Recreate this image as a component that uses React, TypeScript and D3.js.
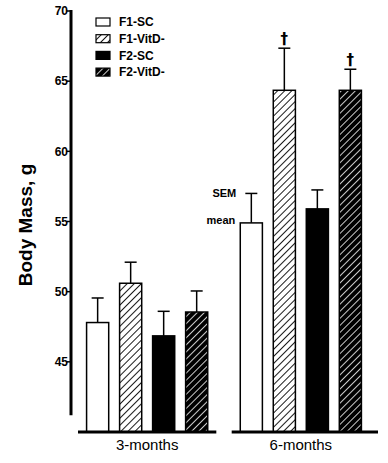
import React, { useEffect, useRef } from 'react'
import * as d3 from 'd3'

const groups = ['3-months', '6-months']
const series = ['F1-SC', 'F1-VitD-', 'F2-SC', 'F2-VitD-']
// mean values per group, in series order
const means = [
  [47.8, 50.6, 46.85, 48.55],
  [54.9, 64.35, 55.9, 64.35],
]
const sems = [
  [1.75, 1.5, 1.75, 1.5],
  [2.1, 3.0, 1.35, 1.5],
]
const dagger = [
  [false, false, false, false],
  [false, true, false, true],
]
const yTicks = [45, 50, 55, 60, 65, 70]

const fills: Record<string, string> = {
  'F1-SC': '#fff',
  'F1-VitD-': 'url(#hatchLight)',
  'F2-SC': '#000',
  'F2-VitD-': 'url(#hatchDark)',
}

export default function App() {
  const ref = useRef<SVGSVGElement>(null)

  useEffect(() => {
    const svg = d3.select(ref.current)
    svg.selectAll('*').remove()
    const font = 'Liberation Sans, Arial, sans-serif'

    const defs = svg.append('defs')
    const light = defs.append('pattern').attr('id', 'hatchLight')
      .attr('patternUnits', 'userSpaceOnUse').attr('width', 5).attr('height', 5)
      .attr('patternTransform', 'rotate(45)')
    light.append('rect').attr('width', 5).attr('height', 5).attr('fill', '#fff')
    light.append('line').attr('x1', 0).attr('y1', 0).attr('x2', 0).attr('y2', 5)
      .attr('stroke', '#000').attr('stroke-width', 1.8)
    const dark = defs.append('pattern').attr('id', 'hatchDark')
      .attr('patternUnits', 'userSpaceOnUse').attr('width', 5).attr('height', 5)
      .attr('patternTransform', 'rotate(45)')
    dark.append('rect').attr('width', 5).attr('height', 5).attr('fill', '#000')
    dark.append('line').attr('x1', 0).attr('y1', 0).attr('x2', 0).attr('y2', 5)
      .attr('stroke', '#fff').attr('stroke-width', 1.6)

    const y = d3.scaleLinear().domain([40, 70]).range([432, 11])
    const x0 = d3.scaleBand().domain(groups).range([78, 370]).paddingInner(0.1)
    const x1 = d3.scaleBand().domain(series).range([0, x0.bandwidth()])
      .paddingInner(0.33).paddingOuter(0.26)

    // y axis
    svg.append('line').attr('x1', 71).attr('x2', 71)
      .attr('y1', y(70) - 1).attr('y2', y(41.2))
      .attr('stroke', '#000').attr('stroke-width', 3)
    const yt = svg.append('g')
    yt.selectAll('line').data(yTicks).enter().append('line')
      .attr('x1', 67).attr('x2', 71).attr('y1', d => y(d)).attr('y2', d => y(d))
      .attr('stroke', '#000').attr('stroke-width', 1.5)
    yt.selectAll('text').data(yTicks).enter().append('text')
      .attr('x', 68).attr('y', d => y(d)).attr('dy', '0.35em')
      .attr('text-anchor', 'end').attr('font-family', font).attr('font-weight', 'bold')
      .attr('font-size', 12).text(d => d)

    svg.append('text')
      .attr('transform', `translate(32,225) rotate(-90)`)
      .attr('text-anchor', 'middle').attr('font-family', font).attr('font-weight', 'bold')
      .attr('font-size', 19).text('Body Mass, g')

    // bars
    groups.forEach((g, gi) => {
      const gx = x0(g)!
      series.forEach((s, si) => {
        const bx = gx + x1(s)!
        const bw = x1.bandwidth()
        const m = means[gi][si]
        const top = y(m + sems[gi][si])
        svg.append('line').attr('x1', bx + bw / 2).attr('x2', bx + bw / 2)
          .attr('y1', y(m)).attr('y2', top).attr('stroke', '#000').attr('stroke-width', 1.5)
        svg.append('line').attr('x1', bx + bw / 2 - 6).attr('x2', bx + bw / 2 + 6)
          .attr('y1', top).attr('y2', top).attr('stroke', '#000').attr('stroke-width', 1.5)
        svg.append('rect').attr('x', bx).attr('y', y(m))
          .attr('width', bw).attr('height', y(40) - y(m))
          .attr('fill', fills[s]).attr('stroke', '#000').attr('stroke-width', 1.5)
        if (dagger[gi][si]) {
          svg.append('text').attr('x', bx + bw / 2).attr('y', top - 4)
            .attr('text-anchor', 'middle').attr('font-family', 'DejaVu Sans, sans-serif')
            .attr('font-weight', 'bold').attr('font-size', 15).text('†')
        }
        if (gi === 1 && si === 0) {
          svg.append('text').attr('x', bx - 4).attr('y', top).attr('dy', '0.35em')
            .attr('text-anchor', 'end').attr('font-family', font).attr('font-weight', 'bold')
            .attr('font-size', 11).text('SEM')
          svg.append('text').attr('x', bx - 5).attr('y', y(m) - 3).attr('dy', '0.35em')
            .attr('text-anchor', 'end').attr('font-family', font).attr('font-weight', 'bold')
            .attr('font-size', 11).text('mean')
        }
      })
      // x axis segment
      svg.append('line').attr('x1', gx).attr('x2', gx + x0.bandwidth() + (gi === 1 ? 8 : 0))
        .attr('y1', y(40)).attr('y2', y(40)).attr('stroke', '#000').attr('stroke-width', 3)
      svg.append('text').attr('x', gx + x0.bandwidth() / 2).attr('y', 450)
        .attr('text-anchor', 'middle').attr('font-family', font)
        .attr('font-size', 15).text(g)
    })

    // legend
    const lg = svg.append('g').attr('transform', 'translate(96,18)')
    series.forEach((s, i) => {
      lg.append('rect').attr('x', 0).attr('y', i * 16.7).attr('width', 14).attr('height', 8)
        .attr('fill', fills[s]).attr('stroke', '#000').attr('stroke-width', 1.2)
      lg.append('text').attr('x', 23).attr('y', i * 16.7 + 4).attr('dy', '0.35em')
        .attr('font-family', font).attr('font-weight', 'bold').attr('font-size', 12).text(s)
    })
  }, [])

  return (
    <svg ref={ref} width={388} height={463}
      style={{ position: 'absolute', left: 0, top: 0, background: '#fff' }} />
  )
}
